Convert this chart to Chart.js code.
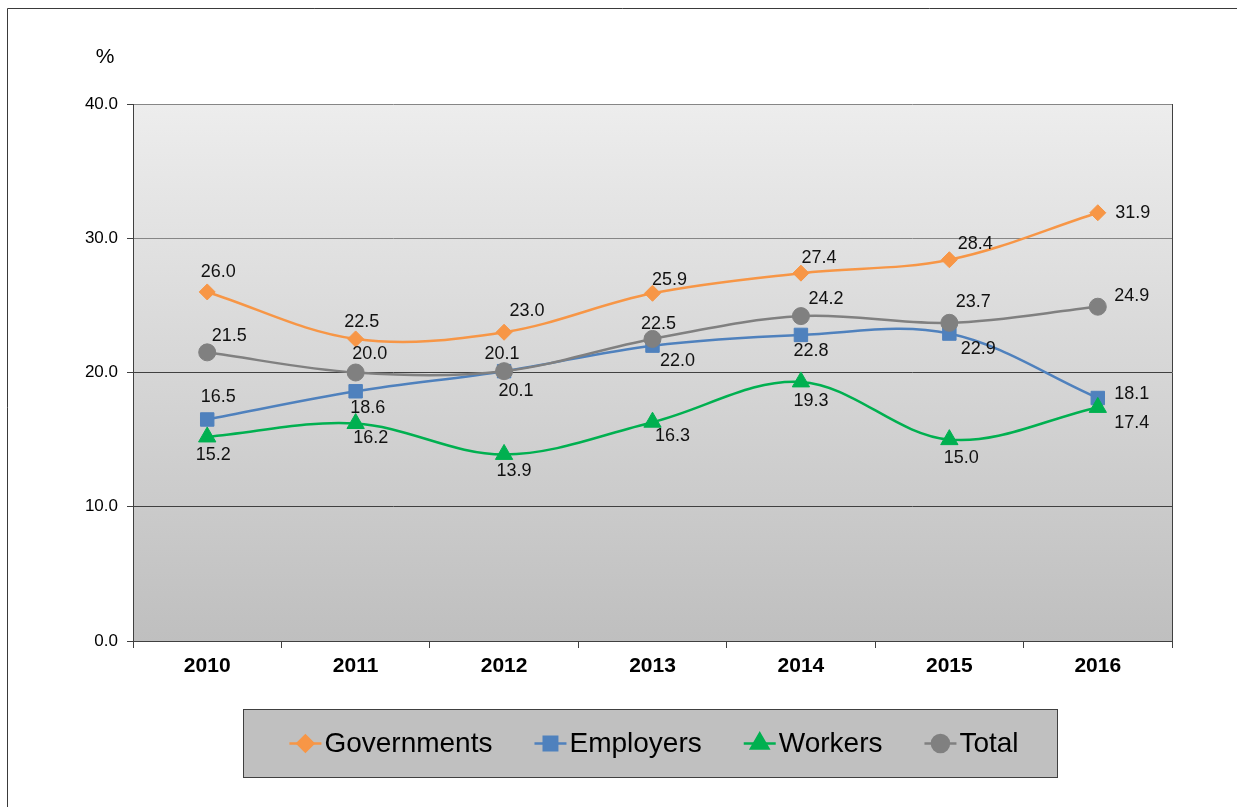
<!DOCTYPE html>
<html lang="en">
<head>
<meta charset="UTF-8">
<title>Contribution rates</title>
<script src="https://cdn.jsdelivr.net/npm/chart.js@4.4.0/dist/chart.umd.min.js"></script>
<style>
  body { margin: 0; background: #fff; }
  #chart { display: block; }
</style>
</head>
<body>
<canvas id="chart" width="1237" height="807"></canvas>
<script>
var years = ['2010', '2011', '2012', '2013', '2014', '2015', '2016']
var governments = [26.0, 22.5, 23.0, 25.9, 27.4, 28.4, 31.9]
var employers = [16.5, 18.6, 20.1, 22.0, 22.8, 22.9, 18.1]
var workers = [15.2, 16.2, 13.9, 16.3, 19.3, 15.0, 17.4]
var total = [21.5, 20.0, 20.1, 22.5, 24.2, 23.7, 24.9]
var yTicks = [0, 10, 20, 30, 40]

// offset of each value label from its marker, in px
var govLabelPos = [[11, -20], [6, -17], [23, -21], [17, -13], [18, -15], [26, -16], [35, 0]]
var empLabelPos = [[11, -22], [12, 17], [12, 20], [25, 15], [10, 16], [29, 15], [34, -4]]
var wrkLabelPos = [[6, 18], [15, 15], [10, 17], [20, 14], [10, 19], [12, 18], [34, 16]]
var totLabelPos = [[22, -16], [14, -18], [-2, -17], [6, -15], [25, -17], [24, -21], [34, -11]]

var FONT = "'Liberation Sans', Arial, sans-serif"
var DARK = '#404040'

// gradient behind the plot + outer frame
var plotBg = {
  id: 'plotBg',
  beforeDraw: function (chart) {
    var ctx = chart.ctx, a = chart.chartArea
    ctx.save()
    var g = ctx.createLinearGradient(0, a.top, 0, a.bottom)
    g.addColorStop(0, '#ededed')
    g.addColorStop(1, '#bfbfbf')
    ctx.fillStyle = g
    ctx.fillRect(a.left, a.top, a.right - a.left, a.bottom - a.top)
    ctx.strokeStyle = '#3a3a3a'
    ctx.lineWidth = 1
    ctx.beginPath()
    ctx.moveTo(7.5, chart.height)
    ctx.lineTo(7.5, 8.5)
    ctx.lineTo(chart.width, 8.5)
    ctx.stroke()
    // "%" unit over the y axis
    ctx.fillStyle = '#000'
    ctx.font = '21px ' + FONT
    ctx.textAlign = 'center'
    ctx.textBaseline = 'middle'
    ctx.fillText('%', 105, 57)
    ctx.restore()
  },
  afterDraw: function (chart) {
    var ctx = chart.ctx, a = chart.chartArea
    ctx.save()
    ctx.strokeStyle = DARK
    ctx.lineWidth = 1
    ctx.beginPath()
    ctx.moveTo(Math.round(a.right) + 0.5, a.top)
    ctx.lineTo(Math.round(a.right) + 0.5, a.bottom)
    ctx.stroke()
    ctx.restore()
  }
}

// value labels next to the markers
var valueLabels = {
  id: 'valueLabels',
  afterDatasetsDraw: function (chart) {
    var ctx = chart.ctx
    ctx.save()
    ctx.font = '18px ' + FONT
    ctx.fillStyle = '#111'
    ctx.textAlign = 'center'
    ctx.textBaseline = 'middle'
    chart.data.datasets.forEach(function (ds, i) {
      var meta = chart.getDatasetMeta(i)
      meta.data.forEach(function (pt, j) {
        var off = ds.labelPos[j]
        ctx.fillText(ds.data[j].toFixed(1), pt.x + off[0], pt.y + off[1])
      })
    })
    ctx.restore()
  }
}

// boxed legend under the axis
var boxLegend = {
  id: 'boxLegend',
  afterDraw: function (chart) {
    var ctx = chart.ctx
    var box = { x: 243.5, y: 709.5, w: 814, h: 68 }
    ctx.save()
    ctx.fillStyle = '#c0c0c0'
    ctx.fillRect(box.x, box.y, box.w, box.h)
    ctx.strokeStyle = DARK
    ctx.lineWidth = 1
    ctx.strokeRect(box.x, box.y, box.w, box.h)

    ctx.font = '28px ' + FONT
    var lineLen = 32, textGap = 3, itemGap = 42
    var items = chart.data.datasets.map(function (ds) {
      return { ds: ds, w: lineLen + textGap + ctx.measureText(ds.label).width }
    })
    var totalW = items.reduce(function (s, it) { return s + it.w }, 0) + itemGap * (items.length - 1)
    var x = 654 - totalW / 2
    var cy = box.y + box.h / 2
    items.forEach(function (it) {
      var ds = it.ds
      ctx.strokeStyle = ds.borderColor
      ctx.lineWidth = 2.5
      ctx.beginPath()
      ctx.moveTo(x, cy)
      ctx.lineTo(x + lineLen, cy)
      ctx.stroke()
      ctx.fillStyle = ds.pointBackgroundColor
      ctx.strokeStyle = ds.pointBackgroundColor
      Chart.helpers.drawPoint(ctx, {
        pointStyle: ds.pointStyle, radius: ds.pointRadius, rotation: 0, borderWidth: 1
      }, x + lineLen / 2, cy)
      ctx.fillStyle = '#000'
      ctx.textAlign = 'left'
      ctx.textBaseline = 'middle'
      ctx.fillText(ds.label, x + lineLen + textGap, cy + 1)
      x += it.w + itemGap
    })
    ctx.restore()
  }
}

function series(label, data, color, style, radius, pos, order) {
  return {
    label: label,
    data: data,
    borderColor: color,
    backgroundColor: color,
    pointBackgroundColor: color,
    pointBorderColor: color,
    pointBorderWidth: 1,
    pointStyle: style,
    pointRadius: radius,
    pointHoverRadius: radius,
    borderWidth: 2.5,
    tension: 0.35,
    fill: false,
    labelPos: pos,
    order: order
  }
}

new Chart(document.getElementById('chart'), {
  type: 'line',
  data: {
    labels: years,
    datasets: [
      series('Governments', governments, '#f79646', 'rectRot', 8, govLabelPos, 4),
      series('Employers', employers, '#4f81bd', 'rect', 9.5, empLabelPos, 3),
      series('Workers', workers, '#00b050', 'triangle', 10, wrkLabelPos, 2),
      series('Total', total, '#808080', 'circle', 8.5, totLabelPos, 1)
    ]
  },
  options: {
    responsive: false,
    animation: false,
    events: [],
    layout: { padding: { left: 0, right: 65, top: 104, bottom: 106 } },
    plugins: {
      legend: { display: false },
      tooltip: { enabled: false }
    },
    scales: {
      x: {
        offset: true,
        afterFit: function (s) { s.height = 60 },
        grid: { offset: true, drawOnChartArea: false, tickLength: 7, tickColor: DARK },
        border: { color: DARK, width: 1 },
        ticks: { color: '#000', font: { family: FONT, size: 21, weight: 'bold' }, padding: 6, maxRotation: 0 }
      },
      y: {
        min: 0,
        max: 40,
        afterFit: function (s) { s.width = 133 },
        afterBuildTicks: function (s) { s.ticks = yTicks.map(function (v) { return { value: v } }) },
        grid: {
          color: function (c) { return c.tick && c.tick.value >= 30 ? '#868686' : DARK },
          tickLength: 6,
          tickColor: DARK
        },
        border: { color: DARK, width: 1 },
        ticks: {
          color: '#000',
          font: { family: FONT, size: 17 },
          padding: 9,
          callback: function (v) { return Number(v).toFixed(1) }
        }
      }
    }
  },
  plugins: [plotBg, valueLabels, boxLegend]
})
</script>
</body>
</html>
